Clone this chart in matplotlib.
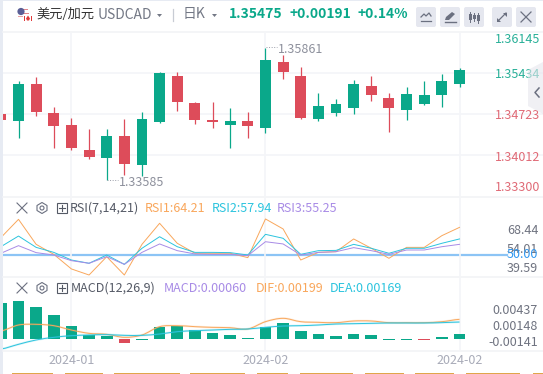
import matplotlib
matplotlib.use('Agg')
import matplotlib.pyplot as plt
from matplotlib.patches import Rectangle, FancyBboxPatch, Polygon, Circle, PathPatch
from matplotlib.path import Path

plt.rcParams['font.family'] = ['Noto Sans CJK SC', 'DejaVu Sans']

# daily candles
opens = [1.34722, 1.34607, 1.35240, 1.34740, 1.34533, 1.34102, 1.33964, 1.34343, 1.33843, 1.34585,
         1.35378, 1.34912, 1.34619, 1.34533, 1.34602, 1.34481, 1.35619, 1.35378, 1.34636, 1.34740,
         1.34826, 1.35205, 1.34998, 1.34791, 1.34895, 1.35050, 1.35240]
closes = [1.34619, 1.35240, 1.34757, 1.34516, 1.34136, 1.33981, 1.34343, 1.33860, 1.34636, 1.35429,
          1.34929, 1.34619, 1.34585, 1.34602, 1.34516, 1.35654, 1.35447, 1.34654, 1.34860, 1.34895,
          1.35240, 1.35050, 1.34826, 1.35067, 1.35050, 1.35291, 1.35475]
highs = [1.34722, 1.35291, 1.35360, 1.34843, 1.34654, 1.34464, 1.34464, 1.34636, 1.34757, 1.35447,
         1.35447, 1.34929, 1.34929, 1.34826, 1.34757, 1.35861, 1.35740, 1.35533, 1.35085, 1.34981,
         1.35309, 1.35378, 1.35085, 1.35188, 1.35291, 1.35412, 1.35516]
lows = [1.34619, 1.34314, 1.34688, 1.34136, 1.34102, 1.33947, 1.33585, 1.33671, 1.33653, 1.34567,
        1.34774, 1.34550, 1.34481, 1.34136, 1.34309, 1.34395, 1.35326, 1.34636, 1.34602, 1.34688,
        1.34722, 1.34947, 1.34412, 1.34619, 1.34878, 1.34843, 1.35188]

rsi1 = [63.2, 77.1, 58.1, 50.5, 39.4, 34.8, 48.7, 34.8, 58.1, 74.1, 58.9, 51.3, 51.3, 51.3, 48.0, 77.4,
        69.8, 46.2, 52.0, 52.5, 62.2, 55.1, 47.5, 55.8, 55.8, 64.7, 71.0]
rsi2 = [56.3, 64.4, 55.8, 52.0, 46.2, 43.7, 50.0, 42.9, 55.1, 63.9, 56.3, 52.0, 52.0, 51.8, 50.0, 65.7,
        62.7, 50.5, 53.3, 53.5, 58.1, 55.1, 51.3, 55.1, 55.1, 58.9, 62.2]
rsi3 = [51.3, 57.1, 51.8, 50.0, 45.7, 43.7, 48.7, 42.9, 52.0, 58.4, 53.3, 50.8, 50.5, 50.5, 49.5, 60.1,
        58.4, 50.0, 52.0, 52.5, 55.6, 53.3, 50.5, 53.8, 53.8, 56.3, 58.1]

macd = [0.0063, 0.00665, 0.0056, 0.0042, 0.00228, 0.0007, 0.00058, -0.0007, -0.00015, 0.0021, 0.00222,
        0.00158, 0.00105, 0.0007, 0.00018, 0.0021, 0.0028, 0.0014, 0.00088, 0.00053, 0.00088, 0.0007,
        -0.00012, -0.00012, -0.00012, 0.00035, 0.00088]
macd_red = [7, 24]
dif = [0.0014, 0.00245, 0.00257, 0.00233, 0.00157, 0.00099, 0.00082, 0.00029, 0.0007, 0.00216, 0.00233,
       0.00216, 0.00204, 0.00198, 0.00175, 0.00303, 0.00362, 0.00303, 0.00292, 0.00286, 0.00315, 0.00315,
       0.00286, 0.00286, 0.00286, 0.00303, 0.00344]
dea = [-0.00175, -0.00093, -0.00017, 0.00029, 0.00058, 0.0007, 0.00076, 0.00064, 0.00064, 0.00087, 0.00128,
       0.00146, 0.00157, 0.00169, 0.00175, 0.00204, 0.00227, 0.00233, 0.00245, 0.00262, 0.00268, 0.00274,
       0.0028, 0.0028, 0.0028, 0.00286, 0.00297]

price_ticks = [1.33300, 1.34012, 1.34723, 1.35434, 1.36145]
price_labels = ['1.33300', '1.34012', '1.34723', '1.35434', '1.36145']
date_ticks = [4, 15, 26]
date_labels = ['2024-01', '2024-02', '2024-02']

GREEN = '#0aa88a'
RED = '#dd4c5a'
GRID = '#f4f5f8'
ORANGE = '#f9a75c'
CYAN = '#2cc4de'
PURPLE = '#a88be6'
W, H = 543, 374

fig = plt.figure(figsize=(W / 100, H / 100), dpi=100, facecolor='white')

def pane(top, bottom, ymin, ymax):
    a = fig.add_axes([3 / W, 1 - bottom / H, (W - 3) / W, (bottom - top) / H])
    a.set_xlim((3 - 0.86) / 17.64, (W - 0.86) / 17.64)
    a.set_ylim(ymin, ymax)
    a.patch.set_alpha(0)
    a.tick_params(left=False, bottom=False, labelleft=False, labelbottom=False)
    for s in a.spines.values():
        s.set_visible(False)
    a.set_xticks(date_ticks)
    a.grid(axis='x', color=GRID, lw=1.2, zorder=0)
    return a

def smooth(a, x, y, color):
    # bezier through the points, the macd lines are curved in the app
    verts = [(x[0], y[0])]
    codes = [Path.MOVETO]
    for i in range(len(x) - 1):
        y0 = y[max(i - 1, 0)]
        y3 = y[min(i + 2, len(y) - 1)]
        verts += [(x[i] + 1 / 3, y[i] + (y[i + 1] - y0) / 6),
                  (x[i + 1] - 1 / 3, y[i + 1] - (y3 - y[i]) / 6),
                  (x[i + 1], y[i + 1])]
        codes += [Path.CURVE4] * 3
    p = Path(verts, codes)
    a.add_patch(PathPatch(p, fill=False, ec=color, lw=1.6, alpha=0.18, zorder=3))
    a.add_patch(PathPatch(p, fill=False, ec=color, lw=0.7, zorder=3))

# pixel layer for the header and all the little bits round the chart
bg = fig.add_axes([0, 0, 1, 1])
bg.set_xlim(0, W)
bg.set_ylim(H, 0)
bg.axis('off')
bg.add_patch(Rectangle((0, 0), 3, H, color='#e7ebf3', lw=0))
bg.add_patch(Rectangle((0, 0), W, 1, color='#e7ebf3', lw=0))
for yy in [31.5, 197, 277, 351]:
    bg.plot([3, W], [yy, yy], color='#f2f3f6', lw=1.2)

# price pane
ax = pane(31.5, 196.5, 1.33300, 1.36145)
ax.set_yticks(price_ticks)
ax.grid(axis='y', color=GRID, lw=1.2, zorder=0)
ax.set_axisbelow(True)
xs = list(range(len(opens)))
cols = [GREEN if c >= o else RED for o, c in zip(opens, closes)]
ax.vlines(xs, lows, highs, colors=cols, lw=0.9, zorder=2)
ax.bar(xs, [abs(c - o) for o, c in zip(opens, closes)], bottom=[min(o, c) for o, c in zip(opens, closes)],
       width=0.62, color=cols, lw=0, zorder=3)

# rsi pane
ax2 = pane(197, 277, 33.28, 94.08)
ax2.axhline(50, color='#8cc4f5', lw=1.6, xmax=(507 - 3) / (W - 3), zorder=1)
ax2.plot(xs, rsi1, color=ORANGE, lw=0.7, zorder=3)
ax2.plot(xs, rsi2, color=CYAN, lw=0.7, zorder=3)
ax2.plot(xs, rsi3, color=PURPLE, lw=0.7, zorder=3)

# macd pane
ax3 = pane(277, 351, -0.0021, 0.01085)
ax3.bar(xs, macd, width=0.66, lw=0, zorder=2,
        color=[RED if i in macd_red else GREEN for i in xs])
smooth(ax3, xs, dif, ORANGE)
smooth(ax3, xs, dea, CYAN)

# top layer, in pixels
fg = fig.add_axes([0, 0, 1, 1])
fg.set_xlim(0, W)
fg.set_ylim(H, 0)
fg.axis('off')
fg.patch.set_alpha(0)

def t(x, y, s, color='#666b78', size=9, ha='left', **kw):
    fg.text(x, y, s, color=color, fontsize=size, ha=ha, va='center', **kw)

# flag
fg.add_patch(Rectangle((19, 9), 9, 1.4, color='#e0868c', lw=0))
fg.add_patch(Rectangle((20, 13), 9, 1.4, color='#e0868c', lw=0))
fg.add_patch(Circle((21, 11.5), 3.6, color='#5a5f96', lw=0))
fg.add_patch(Rectangle((24, 16), 1.4, 5, color='#e03a3a', lw=0))
fg.add_patch(Rectangle((30.5, 16), 1.4, 5, color='#e03a3a', lw=0))
fg.add_patch(Polygon([[28, 15.5], [30, 18.5], [29, 20.5], [27, 20.5], [26, 18.5]], color='#e03a3a', lw=0))
fg.add_patch(Rectangle((17.5, 16), 5, 1.2, color='#e8a0a4', lw=0))

t(36, 14, '美元/加元', color='#333333', size=9.5)
t(98, 15, 'USDCAD', color='#737885', size=10)
fg.add_patch(Polygon([[157, 14], [162, 14], [159.5, 17]], color='#737885', lw=0))
fg.plot([173, 173], [9, 21], color='#c8ccd4', lw=0.9)
t(183, 14, '日K', color='#737885', size=10)
fg.add_patch(Polygon([[212, 14], [217, 14], [214.5, 17]], color='#737885', lw=0))
t(229, 14, '1.35475', color=GREEN, size=10, fontweight='bold')
t(289, 14, '+0.00191', color=GREEN, size=10, fontweight='bold')
t(358, 14, '+0.14%', color=GREEN, size=10, fontweight='bold')

# toolbar buttons
for bx in [416, 440, 464, 492, 516]:
    fg.add_patch(FancyBboxPatch((bx + 2, 9), 16, 16, boxstyle='round,pad=2', color='#e5e7ef', lw=0))
ic = '#6b7080'
fg.plot([421, 424, 426, 429, 431], [17, 14, 16, 13, 16], color=ic, lw=0.9)
fg.plot([421, 431], [21, 21], color=ic, lw=0.9)
fg.add_patch(Polygon([[445, 20], [446, 17], [452, 12], [455, 14], [449, 20]], color=ic, lw=0))
fg.plot([445, 456], [22, 22], color=ic, lw=1.0)
for cx, y0, y1 in [(470, 14, 20), (474, 15, 19), (478, 15, 21)]:
    fg.add_patch(Rectangle((cx - 1.5, y0), 3, y1 - y0, color=ic, lw=0))
    fg.plot([cx, cx], [y0 - 2, y1 + 2], color=ic, lw=0.7)
fg.plot([498, 506], [21, 13], color=ic, lw=0.9)
fg.add_patch(Polygon([[503, 13], [507, 13], [507, 17]], color=ic, lw=0))
fg.add_patch(Polygon([[497, 18], [497, 22], [501, 22]], color=ic, lw=0))
fg.plot([521, 531], [12, 22], color=ic, lw=0.9)
fg.plot([521, 531], [22, 12], color=ic, lw=0.9)

# price axis labels
for lab, yy, c in zip(price_labels, [187, 157, 115, 74, 39],
                      ['#e06a76', '#e06a76', '#e06a76', '#28b098', '#28b098']):
    t(494.5, yy, lab, color=c)

# high / low marks
fg.plot([266, 277], [46.5, 46.5], color='#9a9da8', lw=0.7, ls=':')
t(278, 49.5, '1.35861', color='#8d909c')
fg.plot([107, 118], [180, 180], color='#9a9da8', lw=0.7, ls=':')
t(119, 182, '1.33585', color='#8d909c')

# side tab, see-through over the labels
fg.add_patch(Polygon([[543, 62], [528, 70], [528, 106], [543, 114]], color='#e6e6ee', lw=0, alpha=0.6, zorder=5))
fg.plot([539, 535, 539], [88, 92.5, 97], color='#6b7080', lw=1.1, zorder=6)

def pane_icons(y):
    fg.plot([17, 27], [y - 5, y + 5], color='#6b7080', lw=0.8)
    fg.plot([17, 27], [y + 5, y - 5], color='#6b7080', lw=0.8)
    fg.add_patch(Polygon([[42, y - 5.5], [47, y - 2.5], [47, y + 2.5], [42, y + 5.5], [37, y + 2.5], [37, y - 2.5]],
                         fill=False, ec='#6b7080', lw=0.8))
    fg.add_patch(Circle((42, y), 2, fill=False, ec='#6b7080', lw=0.8))
    fg.add_patch(Rectangle((56.5, y - 5), 10, 10, fill=False, ec='#555a66', lw=0.8))
    fg.plot([58.5, 64.5], [y, y], color='#555a66', lw=0.8)
    fg.plot([61.5, 61.5], [y - 3, y + 3], color='#555a66', lw=0.8)

pane_icons(208)
t(70, 208, 'RSI(7,14,21)', color='#555a66', size=9)
t(145, 208, 'RSI1:64.21', color=ORANGE, size=9)
t(212, 208, 'RSI2:57.94', color=CYAN, size=9)
t(277, 208, 'RSI3:55.25', color=PURPLE, size=9)

pane_icons(288)
t(71, 288, 'MACD(12,26,9)', color='#555a66', size=9)
t(164, 288, 'MACD:0.00060', color=PURPLE, size=9)
t(256, 288, 'DIF:0.00199', color=ORANGE, size=9)
t(330, 288, 'DEA:0.00169', color=CYAN, size=9)

for lab, yy in [('68.44', 230), ('54.01', 249), ('39.59', 268)]:
    t(507, yy, lab, color='#6f7380')
t(507, 255, '50.00', color='#2f97f0')
for lab, yy in [('0.00437', 310), ('0.00148', 327), ('-0.00141', 343)]:
    t(538, yy, lab, color='#6f7380', ha='right')

for d, lab in zip(date_ticks, date_labels):
    t(0.86 + 17.64 * d, 360, lab, color='#a8abb8', ha='center')

# orange scrap along the bottom edge
for x0, x1 in [(12, 53), (65, 103), (114, 180), (190, 245), (257, 288), (300, 353), (365, 404), (415, 454),
               (466, 520), (533, 543)]:
    fg.add_patch(Rectangle((x0, 373), x1 - x0, 1, color='#e0a64a', lw=0))

fig.savefig('out.png', dpi=100, facecolor='white')
